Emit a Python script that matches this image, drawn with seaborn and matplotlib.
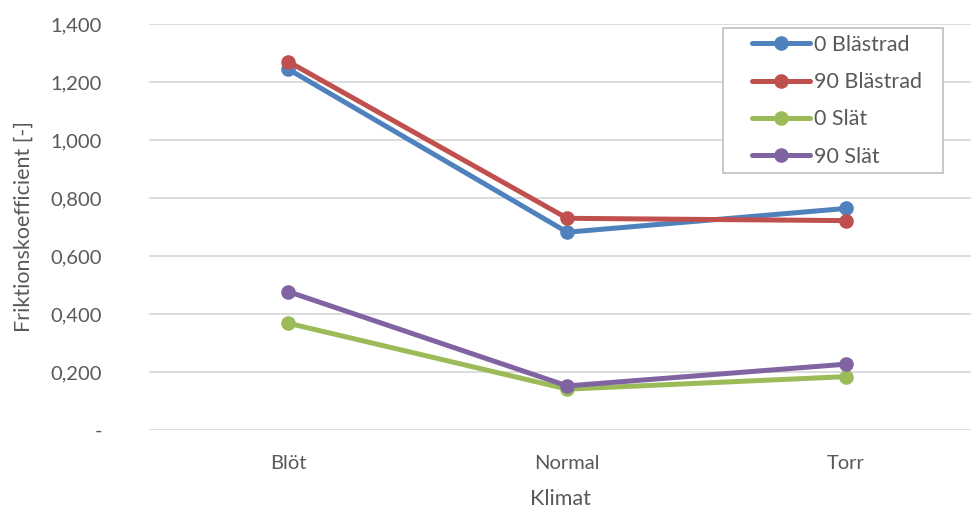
import matplotlib
matplotlib.use("Agg")
import matplotlib.pyplot as plt
import seaborn as sns
import pandas as pd
from matplotlib.ticker import FuncFormatter
from matplotlib.patches import Rectangle

categories = ["Blöt", "Normal", "Torr"]
series_names = ["0 Blästrad", "90 Blästrad", "0 Slät", "90 Slät"]
v_0_blastrad = [1.244, 0.682, 0.764]
v_90_blastrad = [1.270, 0.730, 0.722]
v_0_slat = [0.368, 0.141, 0.184]
v_90_slat = [0.477, 0.152, 0.227]
colors = ["#4F81BD", "#C0504D", "#9BBB59", "#8064A2"]

rows = []
for name, vals in zip(series_names, [v_0_blastrad, v_90_blastrad, v_0_slat, v_90_slat]):
    for c, v in zip(categories, vals):
        rows.append({"Klimat": c, "value": v, "serie": name})
df = pd.DataFrame(rows)

sns.set_style("white")
plt.rcParams["font.family"] = ["Lato", "DejaVu Sans"]

W, H = 971, 508
fig = plt.figure(figsize=(W / 100, H / 100), dpi=100)
ax = fig.add_axes([149 / W, (H - 430) / H, (971 - 149) / W, (430 - 24) / H])

sns.lineplot(data=df, x="Klimat", y="value", hue="serie", hue_order=series_names,
             palette=colors, marker="o", markersize=10.5, linewidth=3.6,
             markeredgewidth=0, sort=False, ax=ax, zorder=3)

ax.set_xlim(-0.5, 2.448)
ax.set_ylim(0, 1.4)
ax.set_yticks([i * 0.2 for i in range(8)])

def fmt(v, pos):
    if abs(v) < 1e-9:
        return "-"
    return f"{v:,.3f}".replace(".", ",")
ax.yaxis.set_major_formatter(FuncFormatter(fmt))
ax.grid(axis="y", color="#D9D9D9", linewidth=1.3)
ax.grid(axis="x", visible=False)
for s in ax.spines.values():
    s.set_visible(False)
ax.tick_params(axis="both", length=0, labelsize=14.5, colors="#595959")
ax.tick_params(axis="y", pad=34)
ax.tick_params(axis="x", pad=18)
for lab in ax.get_yticklabels():
    lab.set_horizontalalignment("right")

ax.set_xlabel("Klimat", fontsize=15.5, color="#595959", labelpad=12)
ax.set_ylabel("Friktionskoefficient [-]", fontsize=15.5, color="#595959", labelpad=12)

handles, labels = ax.get_legend_handles_labels()
leg = ax.legend(handles, labels, loc="upper left",
                bbox_to_anchor=(752 / W, (H - 35) / H), bbox_transform=fig.transFigure,
                fontsize=15.5, frameon=False, handlelength=2.7, handletextpad=0.2,
                borderpad=0, borderaxespad=0, labelspacing=0.8)
for t in leg.get_texts():
    t.set_color("#595959")
leg.set_zorder(6)

frame = Rectangle((723 / W, (H - 173) / H), (943 - 723) / W, (173 - 28) / H,
                  transform=fig.transFigure, fill=True, facecolor="white",
                  edgecolor="#BFBFBF", linewidth=1.2, zorder=5, clip_on=False)
ax.add_patch(frame)

fig.savefig("out.png", dpi=100)
